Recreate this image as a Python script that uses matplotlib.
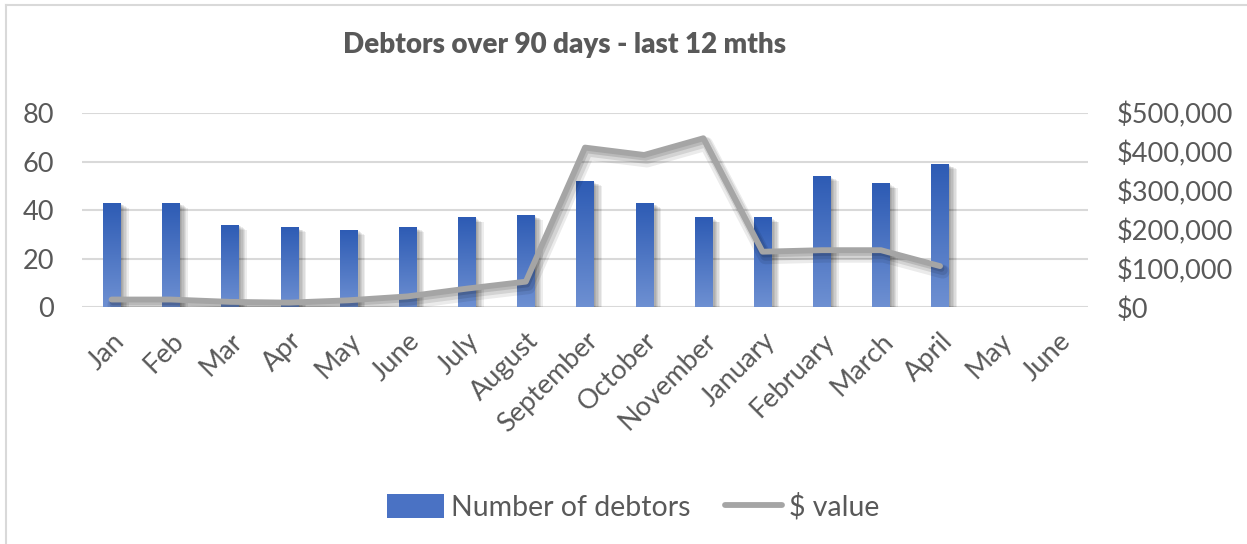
import numpy as np
import matplotlib
matplotlib.use('Agg')
from matplotlib import pyplot as plt
from matplotlib import patheffects as pe
from matplotlib.patches import Rectangle
from matplotlib.lines import Line2D
from matplotlib.ticker import FuncFormatter

months = ['Jan', 'Feb', 'Mar', 'Apr', 'May', 'June', 'July', 'August',
          'September', 'October', 'November', 'January', 'February',
          'March', 'April', 'May', 'June']
debtors = [43, 43, 34, 33, 32, 33, 37, 38, 52, 43, 37, 37, 54, 51, 59, np.nan, np.nan]
dollar_value = [20000, 20000, 14000, 12000, 18000, 28000, 48000, 66000,
                411000, 392000, 435000, 143000, 147000, 147000, 106000, np.nan, np.nan]

TEXT = '#595959'
GRID = '#D9D9D9'
FONT = 'Lato'

plt.rcParams['font.family'] = [FONT, 'DejaVu Sans']

fig = plt.figure(figsize=(12.47, 5.44), dpi=100)
ax = fig.add_axes([82/1247, 236.7/544, (1088-82)/1247, (431-236.7)/544])
ax2 = ax.twinx()

x = np.arange(len(months))

# bar shadow, a few soft layers
shadow = [pe.SimplePatchShadow(offset=(o, -o * 0.6), shadow_rgbFace='black', alpha=0.07)
          for o in (1, 2, 3, 4, 5, 6)]
bars = ax.bar(x, debtors, width=0.29, color='#3F68BE', zorder=3,
              path_effects=shadow + [pe.Normal()])

# vertical gradient inside each bar
grad = np.linspace(0, 1, 256).reshape(-1, 1)
cmap = matplotlib.colors.LinearSegmentedColormap.from_list('bl', ['#6E90D2', '#2D5BB4'])
for b, v in zip(bars, debtors):
    if np.isnan(v):
        continue
    im = ax.imshow(grad, cmap=cmap, aspect='auto', origin='lower', zorder=4,
                   extent=(b.get_x(), b.get_x() + b.get_width(), 0, v))
    im.set_clip_path(b)

ax.set_xlim(-0.5, len(months) - 0.5)
ax.set_ylim(0, 80)
ax.set_yticks(range(0, 81, 20))
ax.grid(axis='y', color=GRID, linewidth=1.5, zorder=0)
ax.set_axisbelow(True)

ax2.plot(x, dollar_value, color='#A5A5A5', linewidth=4.2, solid_capstyle='round',
         solid_joinstyle='round', zorder=5,
         path_effects=[pe.SimpleLineShadow(offset=(2, -4), shadow_color='black', alpha=0.08, linewidth=10),
                       pe.SimpleLineShadow(offset=(2, -3), shadow_color='black', alpha=0.10, linewidth=7),
                       pe.SimpleLineShadow(offset=(1, -2), shadow_color='black', alpha=0.12),
                       pe.Normal()])
ax2.set_ylim(0, 500000)
ax2.set_yticks(range(0, 500001, 100000))
ax2.yaxis.set_major_formatter(FuncFormatter(lambda v, p: f'${v:,.0f}'))

for a in (ax, ax2):
    for s in a.spines.values():
        s.set_visible(False)
    a.tick_params(length=0, labelsize=19.5, labelcolor=TEXT)
ax.tick_params(axis='y', pad=20)
ax2.tick_params(axis='y', pad=21)

ax.set_xticks(x)
ax.set_xticklabels(months, rotation=45, ha='right', va='top', rotation_mode='anchor')
ax.tick_params(axis='x', pad=15)

fig.text(565/1247, 1 - 45/544, 'Debtors over 90 days - last 12 mths', ha='center', va='center',
         fontsize=20, fontweight='heavy', color=TEXT)

handles = [Rectangle((0, 0), 1, 1, facecolor='#4A72C4'),
           Line2D([], [], color='#A5A5A5', linewidth=4.2, solid_capstyle='round')]
fig.legend(handles, ['Number of debtors', '$ value'], loc='center',
           bbox_to_anchor=(633/1247, 1 - 507/544), ncol=2, frameon=False,
           fontsize=20.5, labelcolor=TEXT, handlelength=2.0, handleheight=0.9,
           handletextpad=0.25, columnspacing=1.2)

# chart border (top and left edges visible)
fig.add_artist(Line2D([6/1247, 1], [1 - 5/544, 1 - 5/544], color=GRID, linewidth=1.5))
fig.add_artist(Line2D([6/1247, 6/1247], [0, 1 - 5/544], color=GRID, linewidth=1.5))

fig.savefig('out.png', dpi=100, facecolor='white')
